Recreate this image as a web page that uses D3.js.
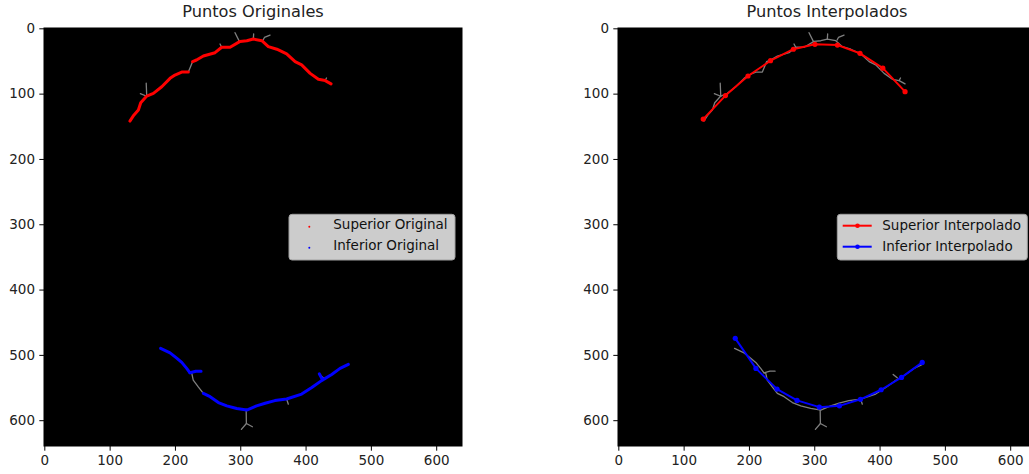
<!DOCTYPE html>
<html>
<head>
<meta charset="utf-8">
<script src="https://cdn.jsdelivr.net/npm/d3@7"></script>
<style>
  html, body { margin: 0; padding: 0; background: #fff; }
  svg { display: block; font-family: "DejaVu Sans", sans-serif; }
</style>
</head>
<body>
<svg id="chart" width="1029" height="474"></svg>
<script>
// ---------- DATA ----------
const ticks = [0, 100, 200, 300, 400, 500, 600];
const imageSize = 640;

// Original detected points (segments, [x, y] in image pixels)
const superiorOriginal = [
  [[131,142],[137,133],[144,125],[147.6,114],[156.8,103.7],[167,99.5],[179.8,89.4],[192.5,76.6],[200,71.5],[210.4,67],[220.5,67]],
  [[227,51],[233,48.5],[243.5,42.4],[261.4,37.3],[271.6,29],[284.4,29],[299.7,20],[310,19],[320,16.4],[333,19],[343,28],[356,32],[371,39],[384,51],[394,56],[407,69],[419.6,78],[430,80],[439,85]]
];
const inferiorOriginal = [
  [[178,490],[192.5,497],[202.7,505],[210.4,511.5],[218,520.7],[223,527.4]],
  [[223,527.4],[232,525],[240,525]],
  [[243.5,559],[253.8,564],[266.5,573],[279.3,578],[294.6,582],[310,584.5],[325,578],[338,574],[353,570],[371,567.6],[394,560],[409.5,550],[425,539],[440,530],[452.8,520.7],[465.5,514.5]],
  [[421,529],[426,538]]
];

// Interpolated points
const superiorInterp = [[130,139],[164,103],[198.5,73],[233,49.6],[268,32],[301,24.5],[335.5,25.6],[370,38.3],[405,61],[439,97]];
const inferiorInterp = [[179,474.7],[210.7,520.7],[243,552.4],[273.6,569.7],[307.8,580],[338.5,578],[370.7,568],[402.4,553.4],[433.6,534.5],[465.3,511.5]];

// Skeleton image (gray lines on black background)
const skeleton = [
  [[131,142],[137,133],[144,125],[147.6,114],[156.8,103.7],[167,99.5],[179.8,89.4],[192.5,76.6],[200,71.5],[210.4,67],[220.5,67],[227,51],[233,48.5],[243.5,42.4],[261.4,37.3],[271.6,29],[284.4,29],[299.7,20],[310,19],[320,16.4],[333,19],[343,28],[356,32],[371,39],[384,51],[394,56],[407,69],[419.6,78],[430,80],[439,85]],
  [[156.8,103.7],[156,84]],
  [[156.8,104],[147,100]],
  [[298.6,20],[292,6.7]],
  [[320,16.4],[320.5,8.7]],
  [[335,18],[337,14],[345.6,10.3]],
  [[271.6,29],[269,24]],
  [[430,80],[432,76]],
  [[178,490],[192.5,497],[202.7,505],[210.4,511.5],[218,520.7],[223,527.4],[225.7,528],[228,538.6],[235.7,549],[243.5,559],[253.8,564],[266.5,573],[279.3,578],[294.6,582],[310,584.5],[325,578],[338,574],[353,570],[371,567.6],[394,560],[409.5,550],[425,539],[440,530],[452.8,520.7],[465.5,514.5]],
  [[223,527.4],[232,525],[240,525]],
  [[309,583],[309.4,605],[301.7,614]],
  [[309.4,605],[318.6,610]],
  [[371,567.6],[373.6,575.5]],
  [[427,535],[420.8,530]]
];

const titles = ["Puntos Originales", "Puntos Interpolados"];
const legendOriginal = ["Superior Original", "Inferior Original"];
const legendInterp = ["Superior Interpolado", "Inferior Interpolado"];
const colors = ["#ff0000", "#0000ff"];

// ---------- DRAW ----------
const svg = d3.select("#chart");
const panels = [
  { x0: 44, x1: 462, y0: 28, y1: 446 },
  { x0: 618, x1: 1036, y0: 28, y1: 446 }
];

panels.forEach((p, i) => {
  const x = d3.scaleLinear().domain([-0.5, imageSize - 0.5]).range([p.x0, p.x1]);
  const y = d3.scaleLinear().domain([-0.5, imageSize - 0.5]).range([p.y0, p.y1]);
  const line = d3.line().x(d => x(d[0])).y(d => y(d[1]));

  const clipId = "clip" + i;
  svg.append("clipPath").attr("id", clipId)
    .append("rect").attr("x", p.x0).attr("y", p.y0)
    .attr("width", p.x1 - p.x0).attr("height", p.y1 - p.y0);

  const g = svg.append("g").attr("clip-path", `url(#${clipId})`);
  g.append("rect").attr("x", p.x0).attr("y", p.y0)
    .attr("width", p.x1 - p.x0).attr("height", p.y1 - p.y0).attr("fill", "#000");

  g.selectAll("path.skel").data(skeleton).enter().append("path")
    .attr("class", "skel").attr("d", line)
    .attr("fill", "none").attr("stroke", "#7f7f7f").attr("stroke-width", 1.3)
    .attr("stroke-linejoin", "round").attr("stroke-linecap", "round");

  if (i === 0) {
    [superiorOriginal, inferiorOriginal].forEach((segs, k) => {
      g.selectAll(null).data(segs).enter().append("path")
        .attr("d", line).attr("fill", "none").attr("stroke", colors[k])
        .attr("stroke-width", 3).attr("stroke-linejoin", "round").attr("stroke-linecap", "round");
    });
  } else {
    [superiorInterp, inferiorInterp].forEach((pts, k) => {
      g.append("path").attr("d", line(pts)).attr("fill", "none")
        .attr("stroke", colors[k]).attr("stroke-width", 2).attr("stroke-linejoin", "round");
      g.selectAll(null).data(pts).enter().append("circle")
        .attr("cx", d => x(d[0])).attr("cy", d => y(d[1])).attr("r", 2.6)
        .attr("fill", colors[k]);
    });
  }

  // frame
  svg.append("rect").attr("x", p.x0).attr("y", p.y0)
    .attr("width", p.x1 - p.x0).attr("height", p.y1 - p.y0)
    .attr("fill", "none").attr("stroke", "#000").attr("stroke-width", 1);

  // axes
  const ax = svg.append("g").attr("transform", `translate(0,${p.y1})`)
    .call(d3.axisBottom(x).tickValues(ticks).tickSize(4.7).tickPadding(5));
  const ay = svg.append("g").attr("transform", `translate(${p.x0},0)`)
    .call(d3.axisLeft(y).tickValues(ticks).tickSize(4.7).tickPadding(4.3));
  [ax, ay].forEach(a => {
    a.select(".domain").remove();
    a.selectAll("text").attr("font-size", "13.5px").attr("fill", "#222")
      .attr("font-family", "DejaVu Sans, sans-serif");
    a.selectAll("line").attr("stroke", "#000");
  });

  // title
  svg.append("text").attr("x", (p.x0 + p.x1) / 2).attr("y", 17)
    .attr("text-anchor", "middle").attr("font-size", "16.2px").attr("fill", "#222")
    .text(titles[i]);

  // legend
  const lg = svg.append("g");
  if (i === 0) {
    lg.append("rect").attr("x", 289).attr("y", 214.3).attr("width", 166).attr("height", 45.7)
      .attr("rx", 3).attr("fill", "#cccccc").attr("stroke", "#a0a0a0").attr("stroke-width", 1);
    legendOriginal.forEach((t, k) => {
      const cy = 226.7 + k * 21;
      lg.append("circle").attr("cx", 309.3).attr("cy", cy).attr("r", 1).attr("fill", colors[k]);
      lg.append("text").attr("x", 333.3).attr("y", 229.3 + k * 21)
        .attr("font-size", "13.5px").attr("fill", "#111").text(t);
    });
  } else {
    lg.append("rect").attr("x", 837.3).attr("y", 214.3).attr("width", 190).attr("height", 45.7)
      .attr("rx", 3).attr("fill", "#cccccc").attr("stroke", "#a0a0a0").attr("stroke-width", 1);
    legendInterp.forEach((t, k) => {
      const cy = 225.7 + k * 21;
      lg.append("line").attr("x1", 842.7).attr("x2", 871.7).attr("y1", cy).attr("y2", cy)
        .attr("stroke", colors[k]).attr("stroke-width", 2);
      lg.append("circle").attr("cx", 857.5).attr("cy", cy).attr("r", 2.3).attr("fill", colors[k]);
      lg.append("text").attr("x", 882.3).attr("y", 230 + k * 20.8)
        .attr("font-size", "13.5px").attr("fill", "#111").text(t);
    });
  }
});
</script>
</body>
</html>
